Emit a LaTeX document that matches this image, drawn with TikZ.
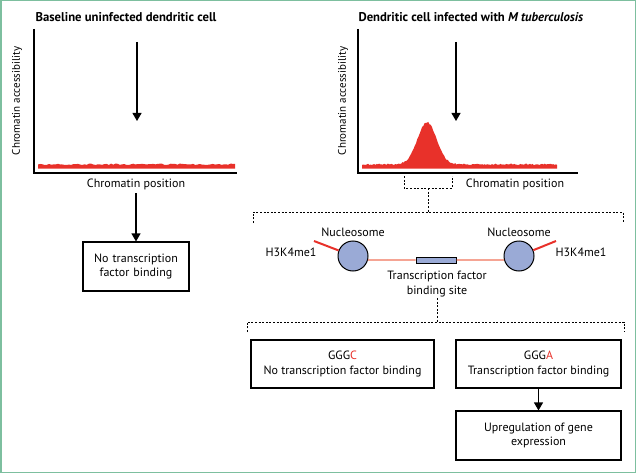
\documentclass[tikz,border=0pt]{standalone}
\usepackage{fontspec}
\setmainfont{PT Sans}
\usetikzlibrary{arrows.meta}
\definecolor{peakred}{HTML}{E8312A}
\definecolor{linkred}{HTML}{F0735A}
\definecolor{nucblue}{HTML}{9AAAD6}
\definecolor{framegreen}{HTML}{7DBF9F}
\tikzset{
	every node/.style={font=\fontsize{12}{14.5}\selectfont},
	axis/.style={line width=1.1pt},
	arr/.style={line width=1.1pt, -{Triangle[width=9pt,length=8pt]}},
	dashline/.style={line width=1pt, dash pattern=on 2pt off 1.6pt},
	infobox/.style={draw, line width=1.1pt, align=center, inner sep=2pt},
	nucleo/.style={circle, draw, line width=1pt, fill=nucblue, minimum size=30pt, inner sep=0pt},
	tail/.style={peakred, line width=2pt},
	link/.style={linkred, line width=1.2pt},
	title/.style={anchor=west, font=\fontsize{12.7}{15}\selectfont\bfseries},
	axlabel/.style={rotate=90, font=\fontsize{11}{13}\selectfont}
}
\begin{document}
\begin{tikzpicture}[x=1pt, y=-1pt]
	\useasboundingbox (0,0) rectangle (636,473);
	\draw[framegreen, line width=1.5pt] (0.75,0.75) rectangle (635.25,472.25);
	\pgfmathsetseed{7}
	% left panel
	\node[title] (titleL) at (32,17) {Baseline uninfected dendritic cell};
	\draw[axis] (34,29) -- (34,173) -- (237,173);
	\node[axlabel] (accL) at (17,101) {Chromatin accessibility};
	\node (posL) at (136,184) {Chromatin position};
	\coordinate (arrLa) at (137,42);
	\coordinate (arrLb) at (137,121);
	\draw[arr] (arrLa) -- (arrLb);
	\fill[peakred] (38,168.5) -- plot[domain=38:235, samples=90] (\x, {164.3+0.7*rand}) -- (235,168.5) -- cycle;
	\node[infobox, minimum width=106pt, minimum height=49pt, text width=100pt] (noBind) at (136,266.5) {No transcription\\factor binding};
	\draw[arr] (posL.south) -- (noBind.north);
	% right panel
	\node[title] (titleR) at (355,17) {Dendritic cell infected with \textit{M tuberculosis}};
	\draw[axis] (358,29) -- (358,173) -- (578,173);
	\node[axlabel] (accR) at (343,101) {Chromatin accessibility};
	\node (posR) at (515,184) {Chromatin position};
	\coordinate (arrRa) at (456,42);
	\coordinate (arrRb) at (456,121);
	\draw[arr] (arrRa) -- (arrRb);
	\fill[peakred] (362,168.5) -- plot[domain=362:557, samples=160] (\x, {164.3-42*exp(-((\x-427)/9.5)^2/2)+0.7*rand}) -- (557,168.5) -- cycle;
	% zoom brackets
	\coordinate (brA) at (428,188);
	\coordinate (brB) at (428,212);
	\draw[dashline] (404,176) -- (404,188) -- (452,188) -- (452,176);
	\draw[dashline] (brA) -- (brB);
	\draw[dashline] (253,223) -- (253,212) -- (623,212) -- (623,223);
	% nucleosomes
	\node[nucleo] (nucL) at (353,256) {};
	\node[nucleo] (nucR) at (519,256) {};
	\node[draw, line width=1pt, fill=nucblue, minimum width=40pt, minimum height=6pt, inner sep=0pt] (site) at (436,260) {};
	\draw[link] (nucL.-15) -- (site.west);
	\draw[link] (site.east) -- (nucR.-165);
	\coordinate (tailL) at (314,241);
	\coordinate (tailR) at (556,241);
	\draw[tail] (tailL) -- (nucL);
	\draw[tail] (tailR) -- (nucR);
	\node (labNucL) at (353,232) {Nucleosome};
	\node (labNucR) at (519,232) {Nucleosome};
	\node (labTailL) at (291,252) {H3K4me1};
	\node (labTailR) at (581,252) {H3K4me1};
	\node[align=center, inner sep=1pt] (labSite) at (437,284) {Transcription factor\\binding site};
	\coordinate (brC) at (437,322);
	\draw[dashline] (labSite.south) -- (brC);
	\draw[dashline] (247,332) -- (247,322) -- (624,322) -- (624,332);
	% outcome boxes
	\node[infobox, minimum width=183pt, minimum height=48pt] (boxC) at (342.5,364) {GGG\textcolor{peakred}{C}\\No transcription factor binding};
	\node[infobox, minimum width=165pt, minimum height=48pt] (boxA) at (538.5,364) {GGG\textcolor{peakred}{A}\\Transcription factor binding};
	\node[infobox, minimum width=165pt, minimum height=49pt] (upReg) at (538.5,435.5) {Upregulation of gene\\expression};
	\draw[arr] (boxA.south) -- (upReg.north);
\end{tikzpicture}
\end{document}
